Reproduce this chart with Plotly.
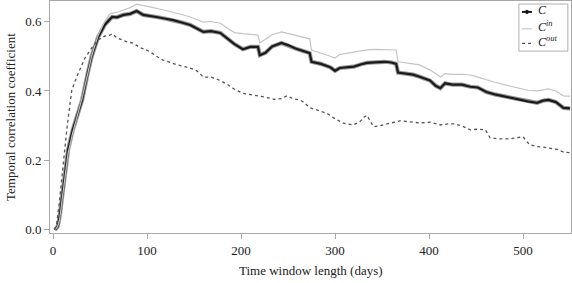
import plotly.graph_objects as go

# --- data ---
days_c = [2, 5, 7, 11, 16, 21, 26, 31, 37, 41, 48, 55, 60, 63, 68, 75, 82, 89, 96, 103, 110,
          120, 128, 137, 146, 153, 160, 168, 178, 186, 193, 202, 210, 218, 220, 226, 233, 243,
          250, 258, 266, 273, 275, 285, 295, 300, 305, 312, 320, 327, 334, 342, 353, 360, 365,
          367, 375, 383, 390, 396, 401, 407, 412, 417, 425, 435, 444, 452, 461, 470, 480, 490,
          497, 505, 515, 521, 527, 535, 543, 550]
c_vals = [0.0, 0.01, 0.037, 0.124, 0.23, 0.288, 0.33, 0.374, 0.452, 0.498, 0.555, 0.59, 0.605,
          0.613, 0.612, 0.619, 0.622, 0.63, 0.619, 0.617, 0.613, 0.608, 0.604, 0.597, 0.59, 0.58,
          0.57, 0.572, 0.567, 0.55, 0.535, 0.52, 0.527, 0.527, 0.503, 0.51, 0.528, 0.538, 0.532,
          0.522, 0.515, 0.509, 0.484, 0.478, 0.468, 0.458, 0.466, 0.467, 0.47, 0.476, 0.481,
          0.482, 0.484, 0.482, 0.478, 0.453, 0.45, 0.447, 0.441, 0.435, 0.43, 0.415, 0.408,
          0.422, 0.418, 0.418, 0.412, 0.41, 0.397, 0.39, 0.384, 0.378, 0.374, 0.37, 0.366,
          0.372, 0.374, 0.368, 0.351, 0.35]

days_in = [2, 5, 7, 11, 16, 21, 26, 31, 37, 41, 48, 55, 60, 63, 70, 75, 82, 89, 96, 103, 110,
           120, 128, 137, 146, 153, 160, 168, 178, 186, 193, 202, 210, 218, 220, 226, 233, 243,
           250, 258, 266, 273, 275, 285, 295, 300, 305, 312, 320, 327, 334, 342, 353, 360, 365,
           367, 375, 383, 390, 396, 401, 407, 412, 417, 425, 435, 444, 452, 461, 470, 480, 490,
           497, 505, 515, 521, 527, 535, 543, 550]
cin_vals = [0.0, 0.01, 0.03, 0.11, 0.22, 0.28, 0.33, 0.38, 0.45, 0.50, 0.56, 0.60, 0.62, 0.624,
            0.628, 0.633, 0.64, 0.65, 0.645, 0.642, 0.638, 0.632, 0.627, 0.62, 0.613, 0.605,
            0.598, 0.6, 0.595, 0.58, 0.568, 0.565, 0.563, 0.561, 0.538, 0.548, 0.562, 0.57,
            0.565, 0.56, 0.555, 0.55, 0.518, 0.51, 0.5, 0.495, 0.505, 0.508, 0.512, 0.516, 0.518,
            0.52, 0.52, 0.52, 0.518, 0.484, 0.482, 0.478, 0.475, 0.468, 0.46, 0.45, 0.44, 0.45,
            0.448, 0.448, 0.446, 0.44, 0.432, 0.425, 0.418, 0.412, 0.406, 0.402, 0.4, 0.404,
            0.406, 0.4, 0.386, 0.385]

days_out = [2, 4, 7, 11, 15, 20, 27, 34, 41, 48, 55, 60, 63, 68, 73, 79, 85, 93, 98, 103, 110,
            117, 125, 132, 140, 146, 153, 160, 168, 178, 186, 193, 202, 210, 219, 226, 235, 243,
            249, 255, 263, 268, 273, 280, 291, 300, 309, 319, 326, 331, 334, 338, 341, 348, 355,
            362, 369, 376, 383, 390, 401, 412, 420, 428, 436, 444, 452, 460, 465, 475, 486, 493,
            500, 507, 515, 522, 529, 536, 543, 550]
cout_vals = [0.0, 0.02, 0.086, 0.2, 0.297, 0.403, 0.452, 0.495, 0.523, 0.547, 0.558, 0.56,
             0.565, 0.553, 0.548, 0.541, 0.538, 0.524, 0.52, 0.513, 0.5, 0.489, 0.482, 0.475,
             0.47, 0.466, 0.458, 0.44, 0.44, 0.43, 0.418, 0.405, 0.393, 0.39, 0.385, 0.382,
             0.376, 0.378, 0.386, 0.378, 0.374, 0.365, 0.352, 0.345, 0.336, 0.32, 0.307, 0.302,
             0.31, 0.325, 0.33, 0.31, 0.297, 0.3, 0.305, 0.31, 0.314, 0.312, 0.31, 0.308, 0.31,
             0.302, 0.305, 0.305, 0.298, 0.288, 0.29, 0.288, 0.265, 0.262, 0.262, 0.266, 0.268,
             0.245, 0.24, 0.238, 0.236, 0.232, 0.224, 0.222]

series_names = ["<i>C</i>", "<i>C<sup>in</sup></i>", "<i>C<sup>out</sup></i>"]
x_ticks = [0, 100, 200, 300, 400, 500]
y_ticks = [0.0, 0.2, 0.4, 0.6]

SERIF = "Liberation Serif"
C_COL, CIN_COL, COUT_COL = "#1a1a1a", "#c4c4c4", "#555555"

fig = go.Figure()
# halo under C to mimic the dense marker outline
fig.add_trace(go.Scatter(x=days_c, y=c_vals, mode="lines",
                         line=dict(color="#9a9a9a", width=4.2), hoverinfo="skip"))
fig.add_trace(go.Scatter(x=days_c, y=c_vals, mode="lines", name=series_names[0],
                         line=dict(color=C_COL, width=2.2)))
fig.add_trace(go.Scatter(x=days_in, y=cin_vals, mode="lines", name=series_names[1],
                         line=dict(color=CIN_COL, width=1.2)))
fig.add_trace(go.Scatter(x=days_out, y=cout_vals, mode="lines", name=series_names[2],
                         line=dict(color=COUT_COL, width=1.3, dash="dot")))

axis_common = dict(showline=True, mirror=True, linecolor="#a8a8a8", linewidth=1,
                   ticks="outside", tickcolor="#a8a8a8", ticklen=5, showgrid=False,
                   zeroline=False, automargin=False,
                   tickfont=dict(family=SERIF, size=13, color="#222"))

# ---- compact legend box (paper coordinates) ----
leg_x0, leg_x1, leg_y0, leg_y1 = 0.900, 0.994, 0.784, 0.987
row_y = [0.953, 0.880, 0.817]
line_x0, line_x1, text_x = 0.906, 0.925, 0.932
shapes = [dict(type="rect", xref="paper", yref="paper", x0=leg_x0, x1=leg_x1,
               y0=leg_y0, y1=leg_y1, line=dict(color="#b0b0b0", width=1),
               fillcolor="white", layer="above")]
styles = [dict(color=C_COL, width=2), dict(color=CIN_COL, width=1.2),
          dict(color=COUT_COL, width=1.2, dash="dot")]
for ry, st in zip(row_y, styles):
    shapes.append(dict(type="line", xref="paper", yref="paper", x0=line_x0, x1=line_x1,
                       y0=ry, y1=ry, line=st, layer="above"))
shapes.append(dict(type="circle", xref="paper", yref="paper",
                   x0=(line_x0 + line_x1) / 2 - 0.003, x1=(line_x0 + line_x1) / 2 + 0.003,
                   y0=row_y[0] - 0.007, y1=row_y[0] + 0.007,
                   line=dict(color=C_COL, width=1), fillcolor=C_COL, layer="above"))

annotations = [
    dict(text="Time window length (days)", xref="paper", yref="paper",
         x=0.5, y=0, yshift=-37, xanchor="center", yanchor="middle", showarrow=False,
         font=dict(family=SERIF, size=13, color="#222")),
    dict(text="Temporal correlation coefficient", xref="paper", yref="paper",
         x=0, y=0.5, xshift=-40, xanchor="center", yanchor="middle", textangle=-90,
         showarrow=False, font=dict(family=SERIF, size=13, color="#222")),
]
for ry, nm in zip(row_y, series_names):
    annotations.append(dict(text=nm, xref="paper", yref="paper", x=text_x, y=ry,
                            yshift=2, xanchor="left", yanchor="middle", showarrow=False,
                            font=dict(family=SERIF, size=12, color="#222")))

fig.update_layout(
    width=572, height=283,
    margin=dict(l=50, r=1, t=1, b=50),
    paper_bgcolor="white", plot_bgcolor="white",
    font=dict(family=SERIF, color="#222"),
    xaxis=dict(range=[-3.2, 551], tickvals=x_ticks, **axis_common),
    yaxis=dict(range=[-0.009, 0.659], tickvals=y_ticks, tickformat=".1f", **axis_common),
    showlegend=False,
    shapes=shapes,
    annotations=annotations,
)

fig.write_html("out.html", config={"displayModeBar": False},
               post_script="document.body.style.margin='0';")
